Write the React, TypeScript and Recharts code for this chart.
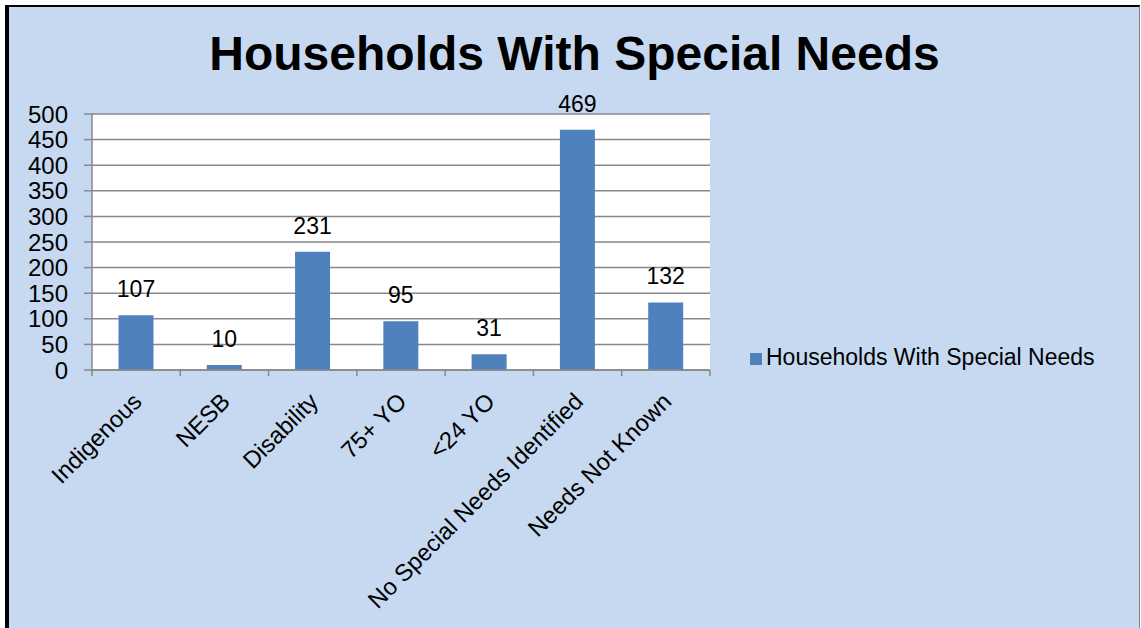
import { BarChart, Bar, XAxis, YAxis, CartesianGrid, Legend, LabelList } from "recharts";

const categories = [
  "Indigenous",
  "NESB",
  "Disability",
  "75+ YO",
  "<24 YO",
  "No Special Needs Identified",
  "Needs Not Known",
];
const households = [107, 10, 231, 95, 31, 469, 132];
const yTicks = [0, 50, 100, 150, 200, 250, 300, 350, 400, 450, 500];

const SERIES_NAME = "Households With Special Needs";
const BAR = "#4f81bd";
const AXIS = "#898989";
const FONT = '"Liberation Sans", Arial, sans-serif';

const data = categories.map((name, i) => ({ name, value: households[i] }));

// excel style: tick marks sit between categories, labels rotated -45
function CategoryTick(props: any) {
  const { x, y, payload } = props;
  const half = payload && payload.offset ? payload.offset : 44;
  const isLast = payload.value === categories[categories.length - 1];
  const tx = x + 7;
  const ty = y + 33;
  return (
    <g>
      <line x1={x - half} y1={y} x2={x - half} y2={y + 6} stroke={AXIS} strokeWidth={1.5} />
      {isLast && <line x1={x + half} y1={y} x2={x + half} y2={y + 6} stroke={AXIS} strokeWidth={1.5} />}
      <text x={tx} y={ty} transform={`rotate(-45, ${tx}, ${ty})`} textAnchor="end" fontSize={23.7} fill="#000" fontFamily={FONT}>
        {payload.value}
      </text>
    </g>
  );
}

export default function App() {
  return (
    <>
      <style>{"body{margin:0}"}</style>
      <div style={{ position: "relative", width: 1141, height: 628, overflow: "hidden", background: "#fff", fontFamily: FONT }}>
        <div
          style={{
            position: "absolute",
            left: 5,
            top: 5,
            width: 1135,
            height: 660,
            boxSizing: "border-box",
            background: "#c6d9f1",
            borderLeft: "4px solid #000",
            borderTop: "2px solid #000",
            borderRight: "1px solid #7f7f7f",
          }}
        />
        <div
          style={{
            position: "absolute",
            left: 0,
            top: 30,
            width: 1149,
            textAlign: "center",
            fontSize: 48,
            fontWeight: "bold",
            lineHeight: "48px",
            color: "#000",
          }}
        >
          Households With Special Needs
        </div>
        <div style={{ position: "absolute", left: 0, top: 0 }}>
          <BarChart
            width={1141}
            height={628}
            data={data}
            margin={{ top: 114, right: 431, bottom: 0, left: 0 }}
            barCategoryGap="30%"
          >
            <CartesianGrid vertical={false} stroke={AXIS} strokeWidth={1.5} fill="#fff" />
            <XAxis
              dataKey="name"
              interval={0}
              tickSize={0}
              tickMargin={0}
              tickLine={false}
              axisLine={{ stroke: AXIS, strokeWidth: 1.5 }}
              tick={<CategoryTick />}
              height={258}
            />
            <YAxis
              width={92}
              domain={[0, 500]}
              ticks={yTicks}
              interval={0}
              tickSize={8}
              tickMargin={16}
              tickLine={{ stroke: AXIS, strokeWidth: 1.5 }}
              axisLine={{ stroke: AXIS, strokeWidth: 1.5 }}
              tick={{ fontSize: 24, fill: "#000", fontFamily: FONT }}
            />
            <Legend
              layout="horizontal"
              verticalAlign="middle"
              align="center"
              iconType="square"
              iconSize={12}
              wrapperStyle={{ left: 750, top: 344, width: "auto", fontSize: 23, fontFamily: FONT }}
              formatter={(v: string) => <span style={{ color: "#000" }}>{v}</span>}
            />
            <Bar dataKey="value" name={SERIES_NAME} fill={BAR} isAnimationActive={false}>
              <LabelList dataKey="value" position="top" offset={18} fill="#000" fontSize={23} fontFamily={FONT} />
            </Bar>
          </BarChart>
        </div>
      </div>
    </>
  );
}
